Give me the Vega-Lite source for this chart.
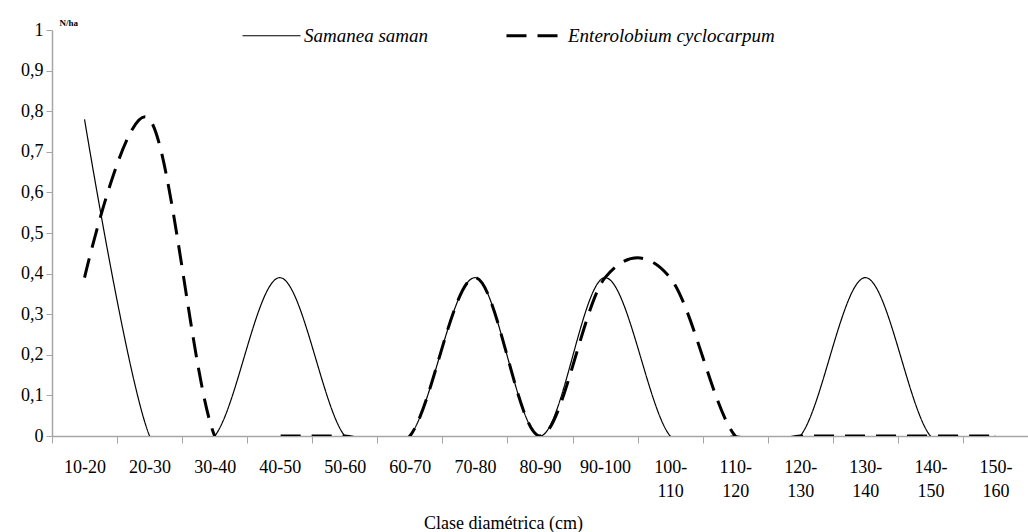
{
  "$schema": "https://vega.github.io/schema/vega-lite/v6.json",
  "width": 976,
  "height": 406,
  "autosize": {"type": "none"},
  "padding": {"left": 52, "top": 30, "right": 0, "bottom": 96},
  "background": "white",
  "config": {"view": {"stroke": null}, "font": "Liberation Serif"},
  "data": {
    "values": [
      {"clase": "10-20", "especie": "Samanea saman", "nha": 0.78},
      {"clase": "20-30", "especie": "Samanea saman", "nha": 0},
      {"clase": "30-40", "especie": "Samanea saman", "nha": 0},
      {"clase": "40-50", "especie": "Samanea saman", "nha": 0.39},
      {"clase": "50-60", "especie": "Samanea saman", "nha": 0},
      {"clase": "60-70", "especie": "Samanea saman", "nha": 0},
      {"clase": "70-80", "especie": "Samanea saman", "nha": 0.39},
      {"clase": "80-90", "especie": "Samanea saman", "nha": 0},
      {"clase": "90-100", "especie": "Samanea saman", "nha": 0.39},
      {"clase": "100-110", "especie": "Samanea saman", "nha": 0},
      {"clase": "110-120", "especie": "Samanea saman", "nha": 0},
      {"clase": "120-130", "especie": "Samanea saman", "nha": 0},
      {"clase": "130-140", "especie": "Samanea saman", "nha": 0.39},
      {"clase": "140-150", "especie": "Samanea saman", "nha": 0},
      {"clase": "150-160", "especie": "Samanea saman", "nha": 0},
      {"clase": "10-20", "especie": "Enterolobium cyclocarpum", "nha": 0.39},
      {"clase": "20-30", "especie": "Enterolobium cyclocarpum", "nha": 0.78},
      {"clase": "30-40", "especie": "Enterolobium cyclocarpum", "nha": 0},
      {"clase": "40-50", "especie": "Enterolobium cyclocarpum", "nha": 0},
      {"clase": "50-60", "especie": "Enterolobium cyclocarpum", "nha": 0},
      {"clase": "60-70", "especie": "Enterolobium cyclocarpum", "nha": 0},
      {"clase": "70-80", "especie": "Enterolobium cyclocarpum", "nha": 0.39},
      {"clase": "80-90", "especie": "Enterolobium cyclocarpum", "nha": 0},
      {"clase": "90-100", "especie": "Enterolobium cyclocarpum", "nha": 0.39},
      {"clase": "100-110", "especie": "Enterolobium cyclocarpum", "nha": 0.39},
      {"clase": "110-120", "especie": "Enterolobium cyclocarpum", "nha": 0},
      {"clase": "120-130", "especie": "Enterolobium cyclocarpum", "nha": 0},
      {"clase": "130-140", "especie": "Enterolobium cyclocarpum", "nha": 0},
      {"clase": "140-150", "especie": "Enterolobium cyclocarpum", "nha": 0},
      {"clase": "150-160", "especie": "Enterolobium cyclocarpum", "nha": 0}
    ]
  },
  "encoding": {
    "x": {
      "field": "clase",
      "type": "ordinal",
      "sort": ["10-20", "20-30", "30-40", "40-50", "50-60", "60-70", "70-80", "80-90", "90-100", "100-110", "110-120", "120-130", "130-140", "140-150", "150-160"],
      "scale": {"type": "band", "paddingInner": 0, "paddingOuter": 0},
      "bandPosition": 0.5,
      "axis": {
        "title": "Clase diamétrica (cm)",
        "titleFont": "Liberation Serif",
        "titleFontSize": 18,
        "titleFontWeight": "normal",
        "titleColor": "black",
        "titleX": 451,
        "titleY": 92,
        "titleAlign": "center",
        "titleBaseline": "alphabetic",
        "tickBand": "extent",
        "labelAngle": 0,
        "labelFont": "Liberation Serif",
        "labelFontSize": 18,
        "labelColor": "black",
        "labelBaseline": "top",
        "labelPadding": 15,
        "labelLineHeight": 24,
        "labelOverlap": false,
        "labelBound": false,
        "labelExpr": "length(datum.label) > 6 ? [slice(datum.label, 0, 4), slice(datum.label, 4)] : datum.label",
        "tickSize": 7,
        "tickColor": "#a6a6a6",
        "domainColor": "#a6a6a6",
        "domainWidth": 1.5,
        "grid": false
      }
    },
    "y": {
      "field": "nha",
      "type": "quantitative",
      "scale": {"domain": [0, 1], "nice": false},
      "axis": {
        "values": [0, 0.1, 0.2, 0.3, 0.4, 0.5, 0.6, 0.7, 0.8, 0.9, 1],
        "labelExpr": "replace(format(datum.value, '.1~f'), '.', ',')",
        "labelFont": "Liberation Serif",
        "labelFontSize": 18,
        "labelColor": "black",
        "labelPadding": 3,
        "tickSize": 6,
        "tickColor": "#a6a6a6",
        "domainColor": "#a6a6a6",
        "domainWidth": 1.5,
        "grid": false,
        "title": "N/ha",
        "titleAngle": 0,
        "titleFont": "Liberation Serif",
        "titleFontSize": 9,
        "titleFontWeight": "bold",
        "titleColor": "black",
        "titleX": 7,
        "titleY": -5,
        "titleAlign": "left",
        "titleBaseline": "alphabetic"
      }
    },
    "strokeDash": {
      "field": "especie",
      "type": "nominal",
      "scale": {"domain": ["Samanea saman", "Enterolobium cyclocarpum"], "range": [[1, 0], [20, 11]]},
      "legend": {
        "orient": "none",
        "legendX": 210,
        "legendY": -4,
        "direction": "horizontal",
        "title": null,
        "symbolType": "stroke",
        "symbolSize": 3364,
        "symbolStrokeColor": "black",
        "labelFont": "Liberation Serif",
        "labelFontStyle": "italic",
        "labelFontSize": 19,
        "labelColor": "black",
        "labelOffset": 23,
        "labelLimit": 0,
        "columnPadding": 71,
        "encode": {"symbols": {"update": {"strokeWidth": {"signal": "datum.value === 'Enterolobium cyclocarpum' ? 3 : 1.2"}, "strokeDash": {"signal": "datum.value === 'Enterolobium cyclocarpum' ? [22, 13] : [1, 0]"}}}}
      }
    }
  },
  "layer": [
    {
      "transform": [{"filter": "datum.especie === 'Samanea saman'"}],
      "mark": {"type": "line", "interpolate": "cardinal", "tension": 0, "clip": true, "strokeWidth": 1.2, "color": "black"}
    },
    {
      "transform": [{"filter": "datum.especie === 'Enterolobium cyclocarpum'"}],
      "mark": {"type": "line", "interpolate": "cardinal", "tension": 0, "clip": true, "strokeWidth": 3, "color": "black"}
    }
  ]
}
